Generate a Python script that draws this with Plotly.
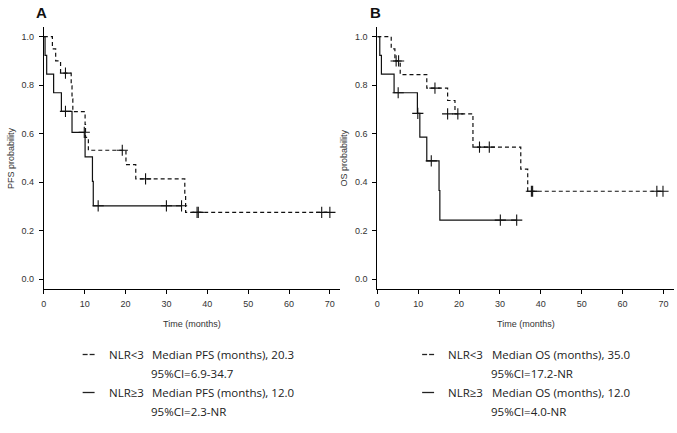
import plotly.graph_objects as go

W, H = 677, 433

# ---------------- data ----------------
x_ticks = [0, 10, 20, 30, 40, 50, 60, 70]
y_ticks = [0.0, 0.2, 0.4, 0.6, 0.8, 1.0]
y_ticktext = ["0.0", "0.2", "0.4", "0.6", "0.8", "1.0"]

# Panel A: PFS
pfs_low_t = [0, 2.1, 2.9, 4.1, 6.7, 6.9, 7.1, 10.1, 10.2, 10.9, 20.1, 22.5, 34.5, 34.7]
pfs_low_s = [1.0, 0.95, 0.90, 0.85, 0.797, 0.744, 0.691, 0.638, 0.585, 0.532, 0.473, 0.414, 0.345, 0.276]
pfs_low_end = 70.0
pfs_low_cens_t = [5.3, 19.2, 24.9, 37.5, 37.8, 68.0, 70.0]
pfs_low_cens_s = [0.85, 0.532, 0.414, 0.276, 0.276, 0.276, 0.276]

pfs_high_t = [0, 0.3, 0.7, 2.4, 4.3, 6.9, 10.1, 11.9, 12.1]
pfs_high_s = [1.0, 0.923, 0.846, 0.769, 0.692, 0.606, 0.505, 0.404, 0.303]
pfs_high_end = 33.7
pfs_high_cens_t = [5.3, 9.9, 13.3, 30.0, 33.7]
pfs_high_cens_s = [0.692, 0.606, 0.303, 0.303, 0.303]

# Panel B: OS
os_low_t = [0, 3.4, 4.3, 5.6, 12.1, 17.2, 19.0, 23.4, 35.1, 36.8]
os_low_s = [1.0, 0.95, 0.90, 0.844, 0.788, 0.737, 0.682, 0.545, 0.454, 0.363]
os_low_end = 70.0
os_low_cens_t = [4.6, 5.2, 14.1, 17.2, 19.7, 25.0, 27.4, 37.7, 38.0, 68.4, 69.9]
os_low_cens_s = [0.90, 0.90, 0.788, 0.682, 0.682, 0.545, 0.545, 0.363, 0.363, 0.363, 0.363]

os_high_t = [0, 0.6, 1.0, 4.1, 9.8, 10.4, 12.1, 15.1, 15.3]
os_high_s = [1.0, 0.923, 0.846, 0.769, 0.684, 0.586, 0.488, 0.366, 0.244]
os_high_end = 34.1
os_high_cens_t = [5.1, 9.9, 13.2, 30.1, 34.1]
os_high_cens_s = [0.769, 0.684, 0.488, 0.244, 0.244]

panel_letters = ["A", "B"]
y_titles = ["PFS probability", "OS probability"]
x_title = "Time (months)"
legend_low = ["NLR<3", "NLR<3"]
legend_high = ["NLR≥3", "NLR≥3"]
legend_low_med = ["Median PFS (months), 20.3", "Median OS (months), 35.0"]
legend_low_ci = ["95%CI=6.9-34.7", "95%CI=17.2-NR"]
legend_high_med = ["Median PFS (months), 12.0", "Median OS (months), 12.0"]
legend_high_ci = ["95%CI=2.3-NR", "95%CI=4.0-NR"]

# ---------------- layout helpers ----------------
def px(x):
    return x / W

def py(y):
    return 1 - y / H

panel_left = [41, 376]
panel_right = [339, 674]
plot_top, plot_bottom = 27, 289
x_range = [0, 72.6]
y_range = [-0.04, 1.04]

fig = go.Figure()

LINE_COL = "#111111"
TICK_FONT = dict(family="Liberation Sans, Arial, sans-serif", size=9, color="#333333")
LEG_FONT = dict(family="Open Sans, Noto Sans, sans-serif", size=11.5, color="#222222")


def add_curve(t, s, end, axis_suffix, dash):
    xs = list(t) + [end]
    ys = list(s) + [s[-1]]
    fig.add_trace(go.Scatter(
        x=xs, y=ys, mode="lines", line_shape="hv",
        line=dict(color=LINE_COL, width=1.2, dash=dash),
        xaxis="x" + axis_suffix, yaxis="y" + axis_suffix,
        showlegend=False, hoverinfo="skip"))


def add_cens(t, s, axis_suffix):
    fig.add_trace(go.Scatter(
        x=t, y=s, mode="markers",
        marker=dict(symbol="cross-thin", size=8, line=dict(color=LINE_COL, width=1.1)),
        xaxis="x" + axis_suffix, yaxis="y" + axis_suffix,
        showlegend=False, hoverinfo="skip"))


curves = [
    ("", pfs_low_t, pfs_low_s, pfs_low_end, pfs_low_cens_t, pfs_low_cens_s, "4px,3px"),
    ("", pfs_high_t, pfs_high_s, pfs_high_end, pfs_high_cens_t, pfs_high_cens_s, "solid"),
    ("2", os_low_t, os_low_s, os_low_end, os_low_cens_t, os_low_cens_s, "4px,3px"),
    ("2", os_high_t, os_high_s, os_high_end, os_high_cens_t, os_high_cens_s, "solid"),
]
for suf, t, s, end, ct, cs, dash in curves:
    add_curve(t, s, end, suf, dash)
    add_cens(ct, cs, suf)

axis_common = dict(
    showline=True, linecolor="#000000", linewidth=1,
    ticks="outside", ticklen=4, tickwidth=1, tickcolor="#000000",
    showgrid=False, zeroline=False, tickfont=TICK_FONT, fixedrange=True,
    ticklabeloverflow="allow",
)

layout = dict(
    width=W, height=H,
    margin=dict(l=0, r=0, t=0, b=0),
    paper_bgcolor="white", plot_bgcolor="white",
    showlegend=False,
)
for i, suf in enumerate(["", "2"]):
    xa = dict(axis_common, domain=[px(panel_left[i]), px(panel_right[i])],
              range=x_range, tickvals=x_ticks, anchor="y" + suf, ticklabelstandoff=2)
    ya = dict(axis_common, domain=[py(plot_bottom), py(plot_top)],
              range=y_range, tickvals=y_ticks, ticktext=y_ticktext,
              anchor="x" + suf, ticklabelstandoff=3)
    layout["xaxis" + suf] = xa
    layout["yaxis" + suf] = ya
fig.update_layout(**layout)

annotations = []
shapes = []
for i in range(2):
    left = panel_left[i]
    right = panel_right[i]
    off = 0 if i == 0 else 341
    # panel letter
    annotations.append(dict(x=px(left - 2), y=py(12), xref="paper", yref="paper",
                            text="<b>%s</b>" % panel_letters[i], showarrow=False,
                            xanchor="center", yanchor="middle",
                            font=dict(family="Liberation Sans, Arial, sans-serif", size=15, color="#111111")))
    # axis titles
    annotations.append(dict(x=px((left + right) / 2), y=py(324), xref="paper", yref="paper",
                            text=x_title, showarrow=False, xanchor="center", yanchor="middle",
                            font=TICK_FONT))
    annotations.append(dict(x=px(left - 33), y=py((plot_top + plot_bottom) / 2), xref="paper", yref="paper",
                            text=y_titles[i], showarrow=False, textangle=-90,
                            xanchor="center", yanchor="middle", font=TICK_FONT))
    # legend block
    rows = [
        (354, legend_low[i], legend_low_med[i]),
        (392, legend_high[i], legend_high_med[i]),
    ]
    for y, lab, med in rows:
        annotations.append(dict(x=px(104 + off), y=py(y), xref="paper", yref="paper", text=lab,
                                showarrow=False, xanchor="left", yanchor="middle", font=LEG_FONT))
        annotations.append(dict(x=px(148 + off), y=py(y), xref="paper", yref="paper", text=med,
                                showarrow=False, xanchor="left", yanchor="middle", font=LEG_FONT))
    for y, ci in [(373, legend_low_ci[i]), (411, legend_high_ci[i])]:
        annotations.append(dict(x=px(147 + off), y=py(y), xref="paper", yref="paper", text=ci,
                                showarrow=False, xanchor="left", yanchor="middle", font=LEG_FONT))
    # legend line keys
    for x0, x1 in [(80, 85), (87, 92)]:
        shapes.append(dict(type="line", xref="paper", yref="paper",
                           x0=px(x0 + off), x1=px(x1 + off), y0=py(354.5), y1=py(354.5),
                           line=dict(color="#222222", width=1.3)))
    shapes.append(dict(type="line", xref="paper", yref="paper",
                       x0=px(80 + off), x1=px(92 + off), y0=py(392.5), y1=py(392.5),
                       line=dict(color="#222222", width=1.3)))

fig.update_layout(annotations=annotations, shapes=shapes)
fig.write_html("out.html", config={"displayModeBar": False},
               post_script="document.body.style.margin='0px';")
